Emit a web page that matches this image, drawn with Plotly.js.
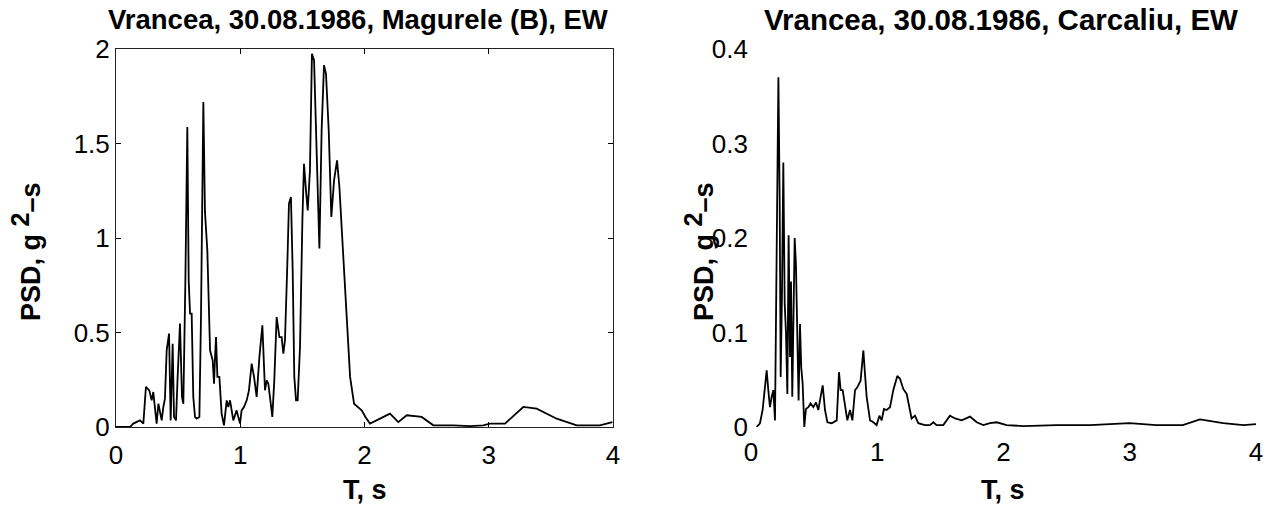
<!DOCTYPE html>
<html>
<head>
<meta charset="utf-8">
<script src="https://cdn.plot.ly/plotly-3.0.1.min.js"></script>
<style>html,body{margin:0;padding:0;background:#fff;}#chart{width:1276px;height:509px;}</style>
</head>
<body>
<div id="chart"></div>
<script>
// ---- data ----
const titleLeft = "Vrancea, 30.08.1986, Magurele (B), EW";
const titleRight = "Vrancea, 30.08.1986, Carcaliu, EW";
const xLabel = "T, s";
const yLabel = "PSD, g <sup><span style=\"font-size:25px\">2</span></sup>–s";

const tMagurele = [0,0.113,0.139,0.166,0.193,0.22,0.241,0.268,0.287,0.300,0.314,0.327,0.341,0.354,0.368,0.381,0.394,0.408,0.427,0.44,0.456,0.467,0.483,0.496,0.515,0.531,0.542,0.558,0.574,0.585,0.596,0.609,0.622,0.636,0.649,0.671,0.684,0.703,0.716,0.735,0.757,0.778,0.789,0.797,0.805,0.816,0.832,0.85,0.869,0.891,0.904,0.918,0.944,0.971,0.998,1.011,1.03,1.052,1.07,1.092,1.111,1.132,1.154,1.178,1.199,1.213,1.226,1.239,1.258,1.274,1.293,1.315,1.333,1.347,1.36,1.379,1.392,1.408,1.422,1.435,1.449,1.462,1.481,1.5,1.513,1.529,1.543,1.561,1.577,1.594,1.615,1.637,1.655,1.674,1.69,1.712,1.733,1.755,1.779,1.798,1.825,1.857,1.884,1.916,1.948,1.977,2.01,2.044,2.125,2.205,2.272,2.34,2.46,2.554,2.715,2.85,2.956,3.01,3.131,3.278,3.386,3.547,3.708,3.895,3.995];
const psdMagurele = [0,0,0.018,0.026,0.035,0.018,0.212,0.194,0.141,0.185,0.106,0.018,0.123,0.071,0.035,0.106,0.15,0.406,0.494,0.035,0.441,0.053,0.035,0.265,0.547,0.159,0.123,0.758,1.587,0.776,0.6,0.6,0.159,0.053,0.044,0.053,0.582,1.72,1.138,0.935,0.406,0.353,0.229,0.37,0.476,0.265,0.265,0.071,0.009,0.141,0.106,0.141,0.035,0.088,0.018,0.088,0.106,0.141,0.194,0.335,0.265,0.159,0.37,0.538,0.194,0.247,0.229,0.159,0.053,0.247,0.582,0.476,0.476,0.388,0.459,0.864,1.182,1.217,0.829,0.265,0.141,0.141,0.423,1.093,1.393,1.252,1.146,1.358,1.975,1.94,1.411,0.944,1.57,1.914,1.87,1.57,1.111,1.305,1.411,1.27,0.952,0.582,0.265,0.123,0.106,0.088,0.05,0.018,0.044,0.071,0.026,0.062,0.053,0.009,0.009,0.005,0.009,0.018,0.018,0.106,0.097,0.044,0.009,0.009,0.026];

const tCarcaliu = [0.045,0.071,0.092,0.11,0.124,0.137,0.15,0.164,0.177,0.19,0.198,0.206,0.217,0.227,0.235,0.245,0.256,0.267,0.277,0.288,0.298,0.309,0.317,0.327,0.338,0.346,0.356,0.367,0.377,0.388,0.398,0.409,0.422,0.435,0.454,0.472,0.494,0.515,0.533,0.546,0.568,0.586,0.605,0.639,0.679,0.697,0.71,0.726,0.745,0.763,0.784,0.803,0.824,0.842,0.868,0.89,0.903,0.916,0.943,0.969,0.995,1.017,1.035,1.053,1.074,1.101,1.127,1.159,1.18,1.207,1.233,1.254,1.272,1.299,1.325,1.378,1.418,1.444,1.47,1.523,1.576,1.616,1.669,1.735,1.788,1.84,1.893,1.946,2.025,2.157,2.42,2.685,3.0,3.21,3.42,3.556,3.74,3.9,4.0];
const psdCarcaliu = [0,0.004,0.018,0.044,0.06,0.039,0.021,0.032,0.039,0.007,0.116,0.249,0.37,0.242,0.053,0.137,0.28,0.13,0.10,0.035,0.203,0.074,0.154,0.032,0.119,0.2,0.172,0.10,0.028,0.109,0.063,0.046,0,0.019,0.021,0.025,0.021,0.026,0.018,0.028,0.044,0.018,0.005,0.004,0.007,0.058,0.039,0.039,0.021,0.007,0.018,0.007,0.039,0.042,0.049,0.081,0.056,0.032,0.007,0.005,0.002,0.012,0.007,0.019,0.018,0.021,0.039,0.054,0.051,0.04,0.035,0.021,0.009,0.012,0.004,0.002,0.002,0.005,0.002,0.002,0.012,0.009,0.007,0.011,0.005,0.002,0.004,0.005,0.002,0.001,0.002,0.002,0.004,0.002,0.002,0.008,0.004,0.002,0.003];

const xTicks = [0,1,2,3,4];
const yTicksLeft = [0,0.5,1,1.5,2];
const yTicksRight = [0,0.1,0.2,0.3,0.4];

// ---- chart ----
const W = 1276, H = 509;
const px = v => v / W, py = v => 1 - v / H;
const FONT = "Liberation Sans, Arial, Helvetica, sans-serif";
const tickFont = {family: FONT, size: 26, color: "#000"};
const titleFontL = {family: FONT, size: 27.5, color: "#000", weight: "bold"};
const titleFontR = {family: FONT, size: 29.5, color: "#000", weight: "bold"};
const labelFont = {family: FONT, size: 27, color: "#000", weight: "bold"};

const lineStyle = {color: "#000", width: 1.8};
const traces = [
  {x: tMagurele, y: psdMagurele, type: "scatter", mode: "lines", line: lineStyle, xaxis: "x", yaxis: "y", hoverinfo: "skip"},
  {x: tCarcaliu, y: psdCarcaliu, type: "scatter", mode: "lines", line: lineStyle, xaxis: "x2", yaxis: "y2", hoverinfo: "skip"}
];

const yDom = [py(427), py(49)];
const axBase = {
  showgrid: false, zeroline: false, tickfont: tickFont, tickcolor: "#000"
};
const layout = {
  width: W, height: H,
  margin: {l: 0, r: 0, t: 0, b: 0},
  paper_bgcolor: "#fff", plot_bgcolor: "#fff",
  showlegend: false,
  xaxis: Object.assign({}, axBase, {domain: [px(116), px(613)], range: [0, 4], tickvals: xTicks, ticktext: xTicks.map(String),
    showline: true, mirror: "ticks", linecolor: "#222", linewidth: 1, ticks: "inside", ticklen: 5, anchor: "y", ticklabelstandoff: 5}),
  yaxis: Object.assign({}, axBase, {domain: yDom, range: [0, 2], tickvals: yTicksLeft, ticktext: yTicksLeft.map(String),
    showline: true, mirror: "ticks", linecolor: "#222", linewidth: 1, ticks: "inside", ticklen: 5, anchor: "x"}),
  xaxis2: Object.assign({}, axBase, {domain: [px(751), px(1256)], range: [0, 4], tickvals: xTicks, ticktext: xTicks.map(String),
    showline: false, ticks: "", anchor: "y2", ticklabelstandoff: 7}),
  yaxis2: Object.assign({}, axBase, {domain: yDom, range: [0, 0.4], tickvals: yTicksRight, ticktext: yTicksRight.map(String),
    showline: false, ticks: "", anchor: "x2", ticklabelstandoff: 2}),
  annotations: [
    {text: titleLeft, xref: "paper", yref: "paper", x: px(358), y: py(20), xanchor: "center", yanchor: "middle", showarrow: false, font: titleFontL},
    {text: titleRight, xref: "paper", yref: "paper", x: px(1001), y: py(20), xanchor: "center", yanchor: "middle", showarrow: false, font: titleFontR},
    {text: xLabel, xref: "paper", yref: "paper", x: px(365), y: py(490), xanchor: "center", yanchor: "middle", showarrow: false, font: labelFont},
    {text: xLabel, xref: "paper", yref: "paper", x: px(1003), y: py(490), xanchor: "center", yanchor: "middle", showarrow: false, font: labelFont},
    {text: yLabel, xref: "paper", yref: "paper", x: px(26), y: py(252), xanchor: "center", yanchor: "middle", textangle: -90, showarrow: false, font: labelFont},
    {text: yLabel, xref: "paper", yref: "paper", x: px(699), y: py(252), xanchor: "center", yanchor: "middle", textangle: -90, showarrow: false, font: labelFont}
  ]
};

Plotly.newPlot("chart", traces, layout, {staticPlot: true, displayModeBar: false});
</script>
</body>
</html>
